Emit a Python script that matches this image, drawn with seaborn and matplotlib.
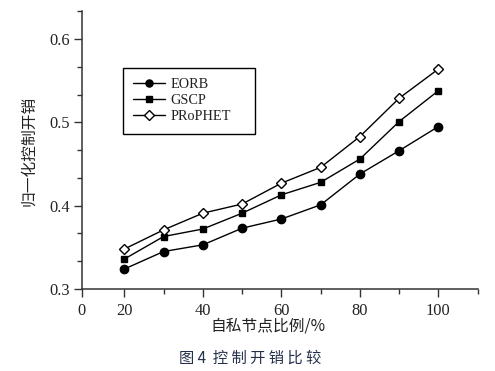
import matplotlib
matplotlib.use("Agg")
import matplotlib.pyplot as plt
from matplotlib.ticker import MultipleLocator, FixedLocator
import seaborn as sns
import pandas as pd

# ---- data ----
ratio = [20, 30, 40, 50, 60, 70, 80, 90, 100]
eorb = [0.324, 0.345, 0.353, 0.373, 0.384, 0.401, 0.438, 0.466, 0.495]
gscp = [0.336, 0.363, 0.372, 0.391, 0.413, 0.428, 0.456, 0.501, 0.538]
prophet = [0.348, 0.371, 0.391, 0.402, 0.427, 0.446, 0.483, 0.529, 0.564]
series_names = ["EORB", "GSCP", "PRoPHET"]
xtick_values = [20, 40, 60, 80, 100]
xtick_labels = ["0", "20", "40", "60", "80", "100"]
ytick_values = [0.3, 0.4, 0.5, 0.6]
ytick_labels = ["0.3", "0.4", "0.5", "0.6"]
xlabel = "自私节点比例/%"
ylabel = "归一化控制开销"
caption = "图 4  控 制 开 销 比 较"

df = pd.DataFrame({"ratio": ratio, "EORB": eorb, "GSCP": gscp, "PRoPHET": prophet})

sns.set_theme(style="ticks")
plt.rcParams["font.family"] = ["Liberation Serif", "DejaVu Serif"]
cjk = ["Noto Sans CJK SC", "DejaVu Sans"]
txt_color = "#222222"

fig = plt.figure(figsize=(4.95, 3.71), dpi=100)
ax = fig.add_axes([82 / 495, 1 - 289 / 371, (477.7 - 82) / 495, (289 - 11) / 371])

styles = {
    "EORB": dict(marker="o", markersize=6, markerfacecolor="black"),
    "GSCP": dict(marker="s", markersize=5, markerfacecolor="black"),
    "PRoPHET": dict(marker="D", markersize=5.5, markerfacecolor="white"),
}
for name in series_names:
    sns.lineplot(data=df, x="ratio", y=name, ax=ax, color="black", linewidth=1.0,
                 markeredgecolor="black", markeredgewidth=1.0, label=name,
                 **styles[name])

xmin, xmax = 9.2, 110.0
ax.set_xlim(xmin, xmax)
ax.set_ylim(0.3, 0.6336)

ax.xaxis.set_major_locator(FixedLocator([xmin] + xtick_values))
ax.set_xticklabels(xtick_labels)
ax.xaxis.set_minor_locator(FixedLocator([30, 50, 70, 90, 110]))
ax.set_yticks(ytick_values)
ax.set_yticklabels(ytick_labels)
ax.yaxis.set_minor_locator(MultipleLocator(0.1 / 3))

for s in ["top", "right"]:
    ax.spines[s].set_visible(False)
for s in ["left", "bottom"]:
    ax.spines[s].set_color("#333333")
    ax.spines[s].set_linewidth(1.1)

ax.tick_params(axis="both", which="major", direction="out", length=6, width=1.0,
               color="#333333", labelsize=11.8, labelcolor=txt_color, pad=3)
ax.tick_params(axis="both", which="minor", direction="out", length=3.5, width=1.0,
               color="#333333")
ax.tick_params(axis="x", which="major", pad=4)

ax.set_xlabel("")
ax.set_ylabel("")

leg = ax.legend(loc="upper left", bbox_to_anchor=(0.103, 0.54, 0.334, 0.256),
                mode="expand", borderaxespad=0, fontsize=10.3, frameon=True,
                fancybox=False, edgecolor="black", framealpha=1,
                handlelength=2.2, handletextpad=0.4, labelspacing=0.2,
                borderpad=0.75, markerscale=0.85)
leg.get_frame().set_linewidth(1.0)
for t in leg.get_texts():
    t.set_color(txt_color)

fig.text(29 / 495, 1 - 151 / 371, ylabel, rotation=90, ha="center", va="center",
         family=cjk, fontsize=11.3, color=txt_color)
fig.text(268 / 495, 1 - 326 / 371, xlabel, ha="center", va="center",
         family=cjk, fontsize=11.3, color=txt_color)
fig.text(250 / 495, 1 - 358 / 371, caption, ha="center", va="center",
         family=cjk, fontsize=11, color="#24304a")

fig.savefig("out.png", dpi=100)
